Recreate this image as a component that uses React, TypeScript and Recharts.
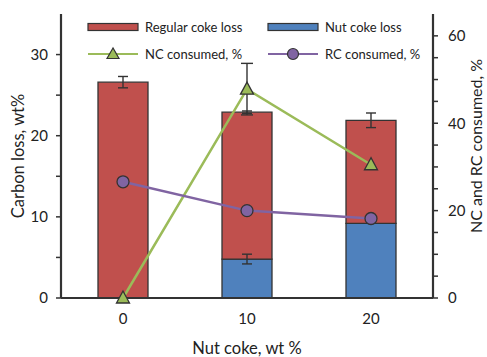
import React from 'react';
import {
  ComposedChart, Bar, Line, XAxis, YAxis, ErrorBar, Legend, Label,
} from 'recharts';

const categories = ['0', '10', '20'];
const nutLoss = [0, 4.8, 9.2];
const regularLoss = [26.6, 18.1, 12.7];
const nutErr = [0, 0.6, 0];
const regularErr = [0.7, 0.15, 0.9];
const ncConsumed = [0, 47.8, 30.5];
const ncErr = [0, 5.9, 0];
const rcConsumed = [26.6, 20, 18.2];

const leftTicks = [0, 5, 10, 15, 20, 25, 30];
const rightTicks = [0, 5, 10, 15, 20, 25, 30, 35, 40, 45, 50, 55, 60];
const boundaryTicks = [0, 1, 2, 3];

const data = categories.map((c, i) => ({
  cat: c,
  nut: nutLoss[i],
  nutE: nutErr[i],
  reg: regularLoss[i],
  regE: regularErr[i],
  nc: ncConsumed[i],
  ncE: ncErr[i],
  rc: rcConsumed[i],
}));

const RED = '#C0504D';
const BLUE = '#4F81BD';
const GREEN = '#9BBB59';
const PURPLE = '#8064A2';
const DARK = '#333333';
const FONT = 'Lato, "Open Sans", sans-serif';

const Triangle = (props: any) => {
  const { cx, cy } = props;
  if (cx == null || cy == null) return null;
  return (
    <polygon
      key={`t-${cx}`}
      points={`${cx},${cy - 7} ${cx - 6.5},${cy + 5} ${cx + 6.5},${cy + 5}`}
      fill={GREEN}
      stroke={DARK}
      strokeWidth={1.3}
    />
  );
};

const Circle = (props: any) => {
  const { cx, cy } = props;
  if (cx == null || cy == null) return null;
  return <circle key={`c-${cx}`} cx={cx} cy={cy} r={6} fill={PURPLE} stroke={DARK} strokeWidth={1.3} />;
};

const legendItems = [
  { name: 'Regular coke loss', kind: 'rect', color: RED },
  { name: 'Nut coke loss', kind: 'rect', color: BLUE },
  { name: 'NC consumed, %', kind: 'tri', color: GREEN },
  { name: 'RC consumed, %', kind: 'circ', color: PURPLE },
];

const LegendContent = () => (
  <div style={{ display: 'grid', gridTemplateColumns: '180px 180px', rowGap: 9, fontFamily: FONT, fontSize: 13, color: '#222' }}>
    {legendItems.map((it) => (
      <div key={it.name} style={{ display: 'flex', alignItems: 'center', height: 18 }}>
        <svg width={52} height={16} style={{ marginRight: 6 }}>
          {it.kind === 'rect' && (
            <rect x={1} y={4.5} width={50} height={7} fill={it.color} stroke={DARK} strokeWidth={1.2} />
          )}
          {it.kind === 'tri' && (
            <g>
              <line x1={1} y1={8} x2={51} y2={8} stroke={it.color} strokeWidth={2.2} />
              <polygon points="26,2 20,12.5 32,12.5" fill={it.color} stroke={DARK} strokeWidth={1.2} />
            </g>
          )}
          {it.kind === 'circ' && (
            <g>
              <line x1={1} y1={8} x2={51} y2={8} stroke={it.color} strokeWidth={2.2} />
              <circle cx={26} cy={8} r={5.5} fill={it.color} stroke={DARK} strokeWidth={1.2} />
            </g>
          )}
        </svg>
        <span>{it.name}</span>
      </div>
    ))}
  </div>
);

export default function App() {
  return (
    <div style={{ position: 'absolute', left: 0, top: 0, background: '#fff' }}>
      <ComposedChart
        width={487}
        height={357}
        data={data}
        margin={{ top: 14, right: 0, left: 0, bottom: 0 }}
        barCategoryGap={0}
        style={{ fontFamily: FONT }}
      >
        <XAxis
          xAxisId="b"
          type="number"
          domain={[0, 3]}
          ticks={boundaryTicks}
          tick={false}
          axisLine={false}
          tickLine={{ stroke: DARK, strokeWidth: 1.5 }}
          tickSize={4}
          height={0}
        />
        <XAxis
          dataKey="cat"
          tickLine={false}
          tickSize={0}
          tickMargin={15}
          axisLine={{ stroke: DARK, strokeWidth: 2.2 }}
          tick={{ fill: '#222', fontSize: 15, fontFamily: FONT }}
          height={59}
        >
          <Label value="Nut coke, wt %" position="insideBottom" offset={3} style={{ fill: '#222', fontSize: 16.5, fontFamily: FONT }} />
        </XAxis>
        <XAxis
          xAxisId="top"
          orientation="top"
          type="number"
          domain={[0, 1]}
          tick={false}
          tickLine={false}
          axisLine={{ stroke: DARK, strokeWidth: 2.2 }}
          height={0}
        />
        <YAxis
          yAxisId="left"
          domain={[0, 35]}
          ticks={leftTicks}
          interval={0}
          tickFormatter={(v: number) => (v % 10 === 0 ? String(v) : '')}
          width={61}
          tickSize={5}
          tickMargin={8}
          axisLine={{ stroke: DARK, strokeWidth: 2.2 }}
          tickLine={{ stroke: DARK, strokeWidth: 1.5 }}
          tick={{ fill: '#222', fontSize: 15, fontFamily: FONT }}
        >
          <Label value="Carbon loss, wt%" angle={-90} position="center" dx={-12} style={{ fill: '#222', fontSize: 16.5, fontFamily: FONT, textAnchor: 'middle' }} />
        </YAxis>
        <YAxis
          yAxisId="right"
          orientation="right"
          domain={[0, 65]}
          ticks={rightTicks}
          interval={0}
          tickFormatter={(v: number) => (v % 20 === 0 ? String(v) : '')}
          width={54}
          tickSize={5}
          tickMargin={10}
          axisLine={{ stroke: DARK, strokeWidth: 2.2 }}
          tickLine={{ stroke: DARK, strokeWidth: 1.5 }}
          tick={{ fill: '#222', fontSize: 15, fontFamily: FONT }}
        >
          <Label value="NC and RC consumed, %" angle={-90} position="center" dx={16} dy={-10} style={{ fill: '#222', fontSize: 16, fontFamily: FONT, textAnchor: 'middle' }} />
        </YAxis>
        <Legend
          layout="horizontal"
          verticalAlign="middle"
          align="center"
          content={LegendContent}
          wrapperStyle={{ position: 'absolute', top: 18, left: 87, width: 380 }}
        />
        <Bar yAxisId="left" dataKey="nut" stackId="s" fill={BLUE} stroke={DARK} strokeWidth={1.3} barSize={50} isAnimationActive={false}>
          <ErrorBar dataKey="nutE" width={5} stroke={DARK} strokeWidth={1.4} direction="y" />
        </Bar>
        <Bar yAxisId="left" dataKey="reg" stackId="s" fill={RED} stroke={DARK} strokeWidth={1.3} barSize={50} isAnimationActive={false}>
          <ErrorBar dataKey="regE" width={5} stroke={DARK} strokeWidth={1.4} direction="y" />
        </Bar>
        <Line yAxisId="right" dataKey="nc" stroke={GREEN} strokeWidth={2.5} dot={Triangle} activeDot={false} isAnimationActive={false}>
          <ErrorBar dataKey="ncE" width={6} stroke={DARK} strokeWidth={1.4} direction="y" />
        </Line>
        <Line yAxisId="right" dataKey="rc" stroke={PURPLE} strokeWidth={2.5} dot={Circle} activeDot={false} isAnimationActive={false} />
      </ComposedChart>
    </div>
  );
}
